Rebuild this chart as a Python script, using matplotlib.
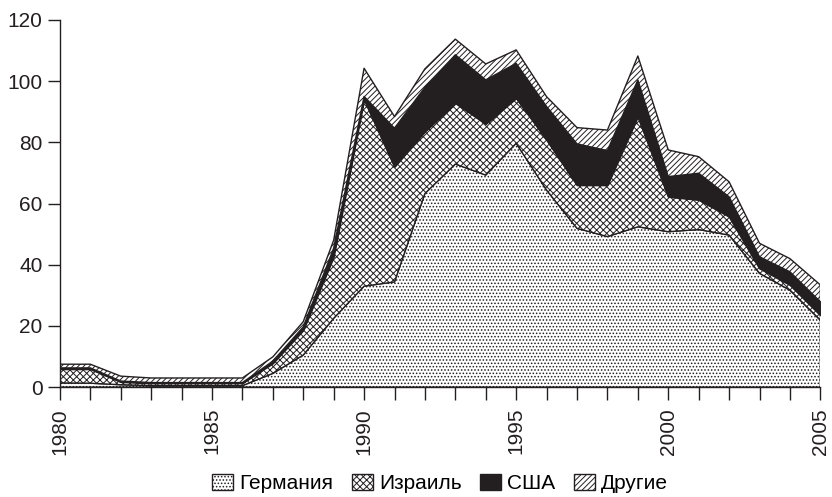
import matplotlib.pyplot as plt
import numpy as np

plt.rcParams['font.family'] = ['Liberation Sans', 'DejaVu Sans']
plt.rcParams['hatch.linewidth'] = 0.7

years = list(range(1980, 2006))
# stacked tops
germany_top = [1.4, 1.3, 0.8, 0.5, 0.5, 0.5, 0.5, 4.5, 10.5, 22.5, 33.0, 34.4, 63.3,
               72.9, 69.3, 79.7, 64.4, 51.9, 49.2, 52.4, 50.8, 51.5, 49.7, 37.2, 31.7, 21.9]
israel_top = [5.9, 5.9, 1.7, 1.3, 1.3, 1.3, 1.3, 7.8, 18.6, 42.6, 94.0, 72.0, 83.5,
              92.8, 86.0, 94.4, 80.8, 66.0, 66.0, 88.4, 62.2, 61.2, 55.7, 38.8, 33.4, 23.5]
usa_top = [6.3, 6.3, 2.0, 1.5, 1.5, 1.5, 1.5, 8.5, 19.7, 45.4, 95.0, 84.6, 98.0,
           108.6, 100.4, 105.8, 91.7, 79.5, 77.3, 100.4, 68.8, 69.9, 62.2, 42.6, 37.7, 27.9]
other_top = [7.5, 7.5, 3.6, 3.0, 3.0, 3.0, 3.0, 9.9, 21.4, 48.0, 104.2, 88.4, 104.0,
             113.7, 105.6, 110.2, 94.9, 84.8, 84.0, 108.2, 77.5, 75.3, 67.1, 47.0, 42.0, 33.4]

germany = np.array(germany_top)
israel = np.array(israel_top) - germany
usa = np.array(usa_top) - np.array(israel_top)
other = np.array(other_top) - np.array(usa_top)

labels = ['Германия', 'Израиль', 'США', 'Другие']
series = [germany, israel, usa, other]
hatches = ['.....', 'xxxxx', None, '//////']
faces = ['white', 'white', '#231f20', 'white']

fig = plt.figure(figsize=(8.32, 4.97), dpi=100)
ax = fig.add_axes([0.072, 0.221, 0.914, 0.739])

bottom = np.zeros(len(years))
for s, lab, h, fc in zip(series, labels, hatches, faces):
    ax.fill_between(years, bottom, bottom + s, facecolor=fc, hatch=h,
                    edgecolor='#231f20', linewidth=1.0, label=lab)
    bottom = bottom + s

ax.set_xlim(1980, 2005)
ax.set_ylim(0, 120)
ax.set_xticks(years)
ax.set_xticklabels([str(y) if y % 5 == 0 else '' for y in years], rotation=90)
ax.set_yticks(range(0, 121, 20))
ax.tick_params(axis='both', direction='out', length=9, width=1.0,
               labelsize=15, colors='#231f20')
ax.tick_params(axis='x', pad=6)
for side in ['top', 'right']:
    ax.spines[side].set_visible(False)
for side in ['left', 'bottom']:
    ax.spines[side].set_linewidth(1.0)
    ax.spines[side].set_color('#231f20')

ax.legend(loc='lower center', bbox_to_anchor=(0.5, -0.34), ncol=4, frameon=False,
          fontsize=15, handlelength=1.0, handleheight=0.8, handletextpad=0.3,
          columnspacing=0.9)

fig.savefig('out.png', dpi=100)
